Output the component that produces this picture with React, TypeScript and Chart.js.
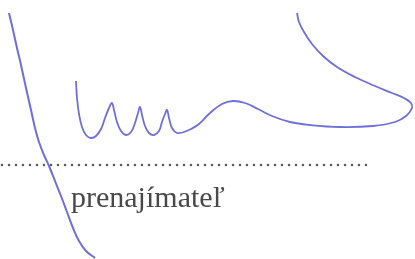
import React, { useEffect, useRef } from "react";
import { Chart, registerables } from "chart.js";

Chart.register(...registerables);

// Signature stroke 1: long descending line (x, y in picture pixels)
const strokeLongX = [9, 13, 17, 21, 26, 31, 35, 39, 44, 49, 55, 61, 67, 73, 79, 86, 95];
const strokeLongY = [13, 30, 48, 65, 88, 110, 128, 142, 155, 166, 181, 196, 212, 228, 241, 251, 258];

// Signature stroke 2: "luu" loops and the swoosh to the right
const strokeMainX = [76, 77, 79, 82, 86, 91, 96, 101, 105, 109, 112, 114, 117, 121, 126, 131, 135, 138, 140, 142, 145, 149, 154, 159, 162, 165, 167, 169, 172, 177, 184, 191, 199, 210, 222, 233, 245, 258, 272, 290, 310, 340, 373, 395, 406, 412, 411, 404, 392, 375, 355, 337, 323, 312, 304, 299, 297];
const strokeMainY = [81, 98, 114, 127, 135, 138, 136, 129, 118, 108, 103, 110, 122, 131, 135, 132, 123, 113, 107, 115, 126, 133, 135, 131, 122, 114, 110, 118, 128, 133, 132, 129, 124, 113, 104, 101, 103, 109, 116, 122, 125, 127, 126, 122, 116, 108, 103, 98, 93, 86, 77, 67, 56, 44, 32, 22, 13];

// Dotted signature line
const dotLineX = [2, 373];
const dotLineY = [165, 165];

// Caption
const captionText = "prenajímateľ";
const captionX = 71;
const captionY = 207;

const toPoints = (xs: number[], ys: number[]) => xs.map((x, i) => ({ x, y: ys[i] }));

const captionPlugin = {
  id: "caption",
  beforeDatasetsDraw(chart: any) {
    const { ctx, scales } = chart;
    ctx.save();
    ctx.font = "30px 'Liberation Serif'";
    ctx.fillStyle = "#484848";
    ctx.textBaseline = "alphabetic";
    ctx.textAlign = "left";
    ctx.fillText(captionText, scales.x.getPixelForValue(captionX), scales.y.getPixelForValue(captionY));
    ctx.restore();
  },
};

export default function App() {
  const ref = useRef<HTMLCanvasElement>(null);
  useEffect(() => {
    if (!ref.current) return;
    const ink = "rgba(92, 96, 212, 0.9)";
    const chart = new Chart(ref.current, {
      type: "scatter",
      data: {
        datasets: [
          {
            data: toPoints(dotLineX, dotLineY),
            showLine: true,
            borderColor: "#5a5a5a",
            borderWidth: 2.6,
            borderDash: [0, 7],
            borderCapStyle: "round",
            pointRadius: 0,
          },
          {
            data: toPoints(strokeLongX, strokeLongY),
            showLine: true,
            borderColor: ink,
            borderWidth: 2,
            tension: 0.4,
            pointRadius: 0,
          },
          {
            data: toPoints(strokeMainX, strokeMainY),
            showLine: true,
            borderColor: ink,
            borderWidth: 1.8,
            tension: 0.4,
            pointRadius: 0,
          },
        ],
      },
      options: {
        animation: false,
        responsive: true,
        maintainAspectRatio: false,
        layout: { padding: 0 },
        plugins: { legend: { display: false }, tooltip: { enabled: false } },
        scales: {
          x: { type: "linear", min: 0, max: 415, display: false },
          y: { type: "linear", min: 0, max: 259, reverse: true, display: false },
        },
      },
      plugins: [captionPlugin],
    } as any);
    return () => chart.destroy();
  }, []);
  return (
    <div style={{ position: "fixed", left: 0, top: 0, width: 415, height: 259, background: "#fff" }}>
      <canvas ref={ref} />
    </div>
  );
}
